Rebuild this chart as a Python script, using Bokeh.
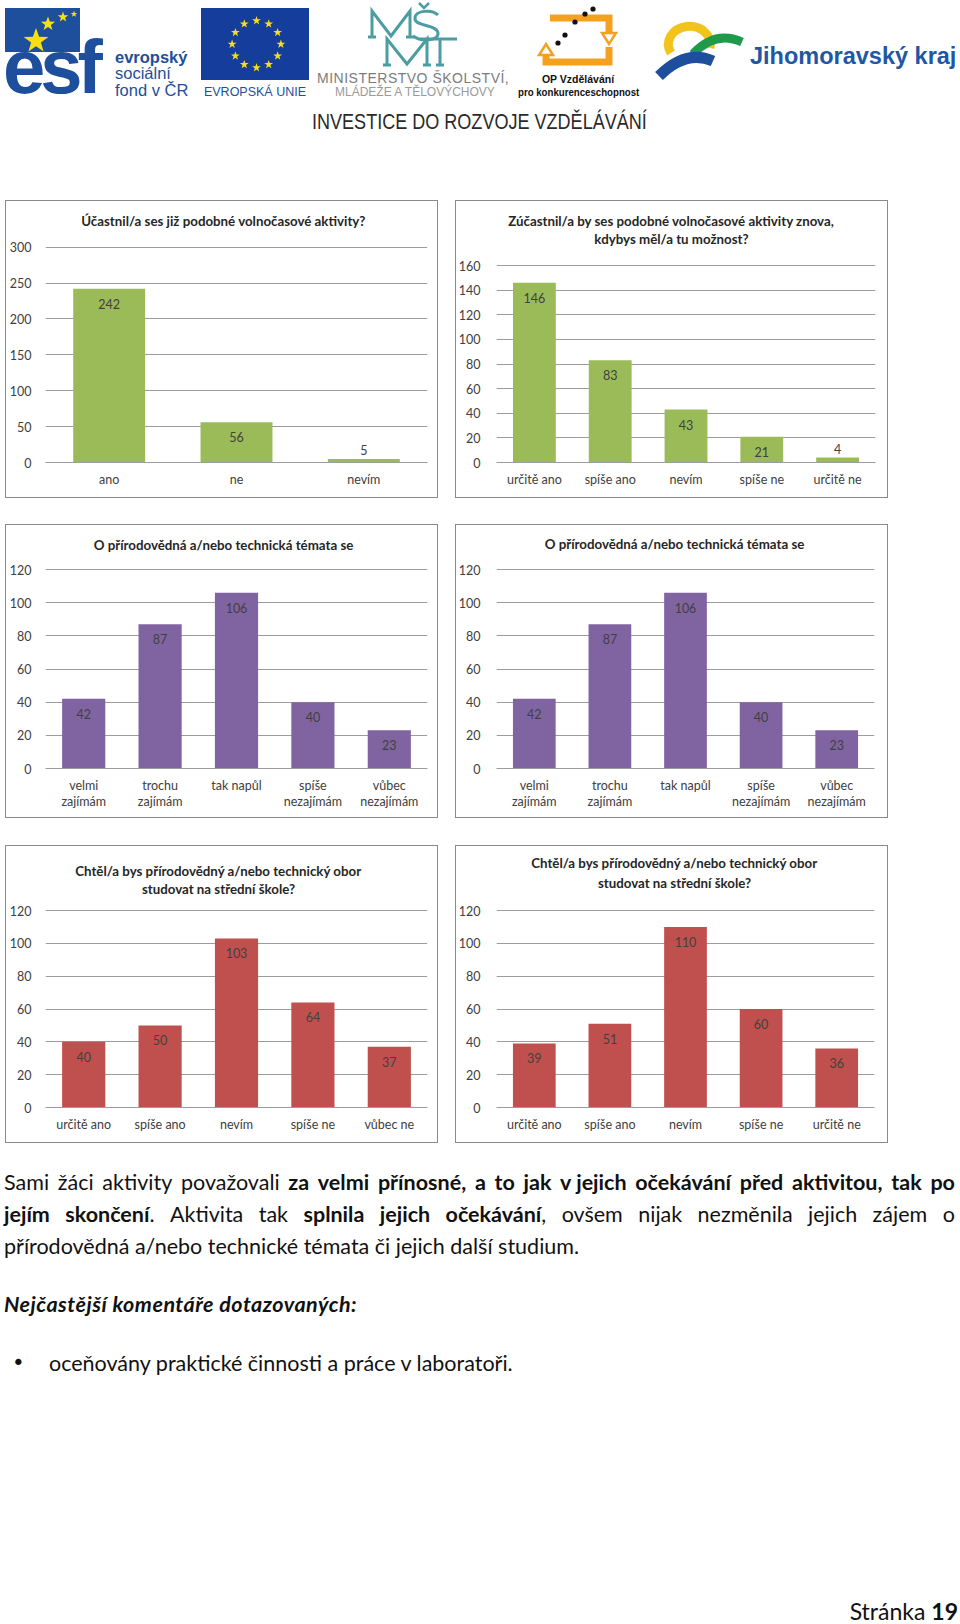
import math
from bokeh.plotting import figure
from bokeh.models import ColumnDataSource, FactorRange, Range1d, FixedTicker, Label, Div, Spacer
from bokeh.layouts import column, row
from bokeh.embed import file_html
from bokeh.resources import INLINE
from bokeh.core.properties import value

# ---------------- data ----------------
q1_title = ["Účastnil/a ses již podobné volnočasové aktivity?"]
q1_categories = ["ano", "ne", "nevím"]
q1_values = [242, 56, 5]
q1_ticks = [0, 50, 100, 150, 200, 250, 300]

q2_title = ["Zúčastnil/a by ses podobné volnočasové aktivity znova,", "kdybys měl/a tu možnost?"]
q2_categories = ["určitě ano", "spíše ano", "nevím", "spíše ne", "určitě ne"]
q2_values = [146, 83, 43, 21, 4]
q2_ticks = [0, 20, 40, 60, 80, 100, 120, 140, 160]

interest_title = ["O přírodovědná a/nebo technická témata se"]
interest_categories = ["velmi\nzajímám", "trochu\nzajímám", "tak napůl", "spíše\nnezajímám", "vůbec\nnezajímám"]
interest_before = [42, 87, 106, 40, 23]
interest_after = [42, 87, 106, 40, 23]
interest_ticks = [0, 20, 40, 60, 80, 100, 120]

study_title = ["Chtěl/a bys přírodovědný a/nebo technický obor", "studovat na střední škole?"]
study_categories_before = ["určitě ano", "spíše ano", "nevím", "spíše ne", "vůbec ne"]
study_before = [40, 50, 103, 64, 37]
study_categories_after = ["určitě ano", "spíše ano", "nevím", "spíše ne", "určitě ne"]
study_after = [39, 51, 110, 60, 36]
study_ticks = [0, 20, 40, 60, 80, 100, 120]

GREEN = "#9BBB59"
PURPLE = "#8064A2"
RED = "#C0504D"
GRID = "#9c9c9c"
TXT = "#404040"
FONT = "Lato"


def make_chart(title_lines, cats, vals, ticks, color, W, H, left, right, bottom, plot_top, tx, tys, ystand):
    ymax = ticks[-1]
    frame_h = H - bottom
    y_end = ymax * frame_h / (frame_h - plot_top)
    p = figure(x_range=FactorRange(*cats, range_padding=0), y_range=Range1d(0, y_end),
               width=W, height=H, output_backend="svg", toolbar_location=None, title=None,
               min_border_left=left, min_border_right=right,
               min_border_top=0, min_border_bottom=bottom,
               background_fill_color=None, border_fill_color=None,
               styles={"box-shadow": "inset 0 0 0 1px #8a8a8a"})
    p.outline_line_color = None
    p.xgrid.grid_line_color = None
    p.ygrid.ticker = FixedTicker(ticks=ticks)
    p.ygrid.grid_line_color = GRID
    p.ygrid.grid_line_width = 1
    p.yaxis.ticker = FixedTicker(ticks=ticks)
    p.yaxis.axis_line_color = None
    p.yaxis.major_tick_line_color = None
    p.yaxis.minor_tick_line_color = None
    p.yaxis.major_label_standoff = ystand
    p.xaxis.axis_line_color = GRID
    p.xaxis.major_tick_line_color = None
    p.xaxis.major_label_standoff = 3
    for ax in (p.xaxis[0], p.yaxis[0]):
        ax.major_label_text_font = FONT
        ax.major_label_text_font_size = "12.5px"
        ax.major_label_text_color = TXT
    p.xaxis.major_label_text_line_height = 1.13

    offs = [15 if v / ymax * (frame_h - plot_top) >= 20 else -9 for v in vals]
    src = ColumnDataSource(dict(cat=cats, val=vals, lbl=[str(v) for v in vals], off=offs))
    p.vbar(x="cat", top="val", width=0.565, source=src, fill_color=color, line_color=None)
    p.text(x="cat", y="val", text="lbl", y_offset="off", source=src,
           text_align="center", text_baseline="middle",
           text_font=value(FONT), text_font_size="12.5px", text_color=TXT)
    for line, ty in zip(title_lines, tys):
        p.add_layout(Label(x=tx - left, y=frame_h - ty, x_units="screen", y_units="screen",
                           text=line, text_align="center", text_baseline="middle",
                           text_font=FONT, text_font_style="bold", text_font_size="13.3px",
                           text_color="#262626"))
    return p


c1 = make_chart(q1_title, q1_categories, q1_values, q1_ticks, GREEN, 433, 298, 40, 11, 36, 46.7, 218, [20], 8)
c2 = make_chart(q2_title, q2_categories, q2_values, q2_ticks, GREEN, 433, 298, 37, 13, 36, 65, 212, [20, 38], 10)
c3 = make_chart(interest_title, interest_categories, interest_before, interest_ticks, PURPLE, 433, 294, 40, 11, 50, 45, 218, [20], 8)
c4 = make_chart(interest_title, interest_categories, interest_after, interest_ticks, PURPLE, 433, 294, 37, 14, 50, 45, 215, [19], 10)
c5 = make_chart(study_title, study_categories_before, study_before, study_ticks, RED, 433, 298, 40, 11, 36, 65, 213, [25, 43], 8)
c6 = make_chart(study_title, study_categories_after, study_after, study_ticks, RED, 433, 298, 37, 14, 36, 65, 215, [17, 37], 10)

# ---------------- header (logos drawn as HTML / inline SVG) ----------------
def box(l, t, inner="", style=""):
    return f'<div style="position:absolute;left:{l}px;top:{t}px;{style}">{inner}</div>'

def star_poly(cx, cy, r, fill="#f7df13"):
    pts = []
    for i in range(10):
        rr = r if i % 2 == 0 else r * 0.4
        a = -math.pi / 2 + i * math.pi / 5
        pts.append(f"{cx + rr * math.cos(a):.1f},{cy + rr * math.sin(a):.1f}")
    return f'<polygon points="{" ".join(pts)}" fill="{fill}"/>'

ESF = "#1d4f9c"
TEAL = "#4c9da2"
OR = "#f4a11f"

svg = ['<svg xmlns="http://www.w3.org/2000/svg" width="960" height="130" style="position:absolute;left:0;top:0">']
svg.append(f'<rect x="5" y="8" width="75" height="44" fill="{ESF}"/>')
svg.append('<rect x="201" y="8" width="108" height="72" fill="#153d9c"/>')
for k in range(12):
    a = 2 * math.pi * k / 12
    svg.append(star_poly(256.5 + 24.4 * math.sin(a), 44.2 - 23.5 * math.cos(a), 4.6))
svg.append(f'<g fill="none" stroke="{TEAL}" stroke-width="3" stroke-linejoin="miter">'
           '<polyline points="372,37 372,11 391,36 410,11 410,37"/>'
           '<path d="M438,15 C432,9 414,10 415,19 C416,27 437,24 438,33 C439,41 421,42 413,36"/>'
           '<polyline points="419,3 424,8 429,3" stroke-width="2.5"/>'
           '<polyline points="387,65 387,39 407,64 427,39 427,65"/>'
           '<polyline points="420,39 457,39"/><polyline points="440,39 440,65"/>'
           '<polyline points="368,37 376,37"/><polyline points="406,37 414,37"/>'
           '<polyline points="383,65 391,65"/><polyline points="423,65 431,65"/><polyline points="436,65 444,65"/>'
           '</g>')
svg.append(f'<g fill="none" stroke="{OR}" stroke-width="7">'
           '<polyline points="550,18 609,18 609,32"/>'
           '<polyline points="609,47 609,62 546,62 546,56"/></g>')
svg.append(f'<polygon points="602,33 616,33 609,44" fill="white" stroke="{OR}" stroke-width="2.5"/>')
svg.append(f'<polygon points="539,55 553,55 546,44" fill="white" stroke="{OR}" stroke-width="2.5"/>')
for (dx, dy) in [(558, 43), (565, 35), (575, 22), (585, 14), (593, 9)]:
    svg.append(f'<circle cx="{dx}" cy="{dy}" r="2.6" fill="#111"/>')
svg.append('<path d="M671,53 A21 18 0 1 1 710,48" fill="none" stroke="#f2c41b" stroke-width="9"/>')
svg.append('<path d="M693,54 Q715,30 742,42" fill="none" stroke="#1f9a4a" stroke-width="9"/>')
svg.append('<path d="M659,76 Q686,49 713,61" fill="none" stroke="#1d4f9c" stroke-width="11"/>')
svg.append('</svg>')

h = ["".join(svg)]
h.append(box(3, 29, "esf", f"font-family:'Liberation Sans';font-weight:bold;font-size:76px;line-height:76px;letter-spacing:-5px;color:{ESF}"))
h.append('<svg xmlns="http://www.w3.org/2000/svg" width="100" height="60" style="position:absolute;left:0;top:0">'
         + star_poly(36, 41, 13) + star_poly(48, 24, 7.5) + star_poly(63, 17, 5.5) + star_poly(74, 14, 3.5) + '</svg>')
h.append(box(115, 49, "evropský", f"font-family:'Liberation Sans';font-weight:bold;font-size:16.5px;line-height:17px;color:{ESF}"))
h.append(box(115, 65, "sociální", f"font-family:'Liberation Sans';font-size:16.5px;line-height:17px;color:{ESF}"))
h.append(box(115, 82, "fond v ČR", f"font-family:'Liberation Sans';font-size:16.5px;line-height:17px;color:{ESF}"))
h.append(box(201, 85, "EVROPSKÁ UNIE", f"width:108px;text-align:center;font-family:'Liberation Sans';font-size:12.5px;line-height:14px;color:{ESF}"))
h.append(box(317, 71, "MINISTERSTVO ŠKOLSTVÍ,", "font-family:'Liberation Sans';font-size:14px;line-height:14px;letter-spacing:0.5px;color:#7c7c7c;white-space:nowrap"))
h.append(box(335, 86, "MLÁDEŽE A TĚLOVÝCHOVY", "font-family:'Liberation Sans';font-size:12px;line-height:13px;color:#9a9a9a;white-space:nowrap"))
h.append(box(538, 73, "OP Vzdělávání", "width:80px;text-align:center;font-family:'Liberation Sans';font-weight:bold;font-size:10.5px;line-height:12px;color:#111"))
h.append(box(518, 86, "pro konkurenceschopnost", "font-family:'Liberation Sans';font-weight:bold;font-size:10.5px;line-height:12px;color:#111;white-space:nowrap;transform:scaleX(0.92);transform-origin:left"))
h.append(box(750, 43, "Jihomoravský kraj", "font-family:'Liberation Sans';font-weight:bold;font-size:23.5px;line-height:26px;color:#1f57a4;white-space:nowrap"))
h.append(box(312, 110, "INVESTICE DO ROZVOJE VZDĚLÁVÁNÍ", "font-family:'Liberation Sans';font-size:22px;line-height:24px;color:#2a2a2a;white-space:nowrap;transform:scaleX(0.82);transform-origin:left"))
header = Div(text='<div style="position:relative;width:960px;height:130px">' + "".join(h) + "</div>",
             width=960, height=130, margin=0)

# ---------------- body text ----------------
BF = "font-family:Lato;font-size:21.5px;line-height:24px;color:#111;"

def just_line(top, words):
    spans = "".join(f"<span>{w}</span>" for w in words)
    return box(4, top, spans, BF + "width:951px;display:flex;justify-content:space-between;white-space:nowrap")

line1 = ["Sami", "žáci", "aktivity", "považovali", "<b>za</b>", "<b>velmi</b>", "<b>přínosné,</b>", "<b>a</b>",
         "<b>to</b>", "<b>jak</b>", "<b>v&nbsp;jejich</b>", "<b>očekávání</b>", "<b>před</b>", "<b>aktivitou,</b>",
         "<b>tak</b>", "<b>po</b>"]
line2 = ["<b>jejím</b>", "<b>skončení</b>.", "Aktivita", "tak", "<b>splnila</b>", "<b>jejich</b>", "<b>očekávání</b>,",
         "ovšem", "nijak", "nezměnila", "jejich", "zájem", "o"]
b = []
b.append(just_line(27, line1))
b.append(just_line(59, line2))
b.append(box(4, 91, "přírodovědná a/nebo technické témata či jejich další studium.", BF + "white-space:nowrap"))
b.append(box(4, 149, "<b><i>Nejčastější komentáře dotazovaných:</i></b>", BF + "letter-spacing:0.5px;white-space:nowrap"))
b.append(box(12, 208, "&#8226;", BF + "font-family:'DejaVu Sans'"))
b.append(box(49, 208, "oceňovány praktické činnosti a práce v laboratoři.", BF + "white-space:nowrap"))
b.append(box(0, 458, "Stránka <b>19</b>", "width:958px;text-align:right;font-family:Lato;font-size:23px;line-height:21px;color:#111"))
body = Div(text='<div style="position:relative;width:960px;height:480px">' + "".join(b) + "</div>",
           width=960, height=480, margin=0)

row1 = row(Spacer(width=5), c1, Spacer(width=17), c2, spacing=0)
row2 = row(Spacer(width=5), c3, Spacer(width=17), c4, spacing=0)
row3 = row(Spacer(width=5), c5, Spacer(width=17), c6, spacing=0)

page = column(header, Spacer(height=70), row1, Spacer(height=26), row2, Spacer(height=27), row3, body,
              spacing=0)

open("out.html", "w").write(file_html(page, INLINE))
